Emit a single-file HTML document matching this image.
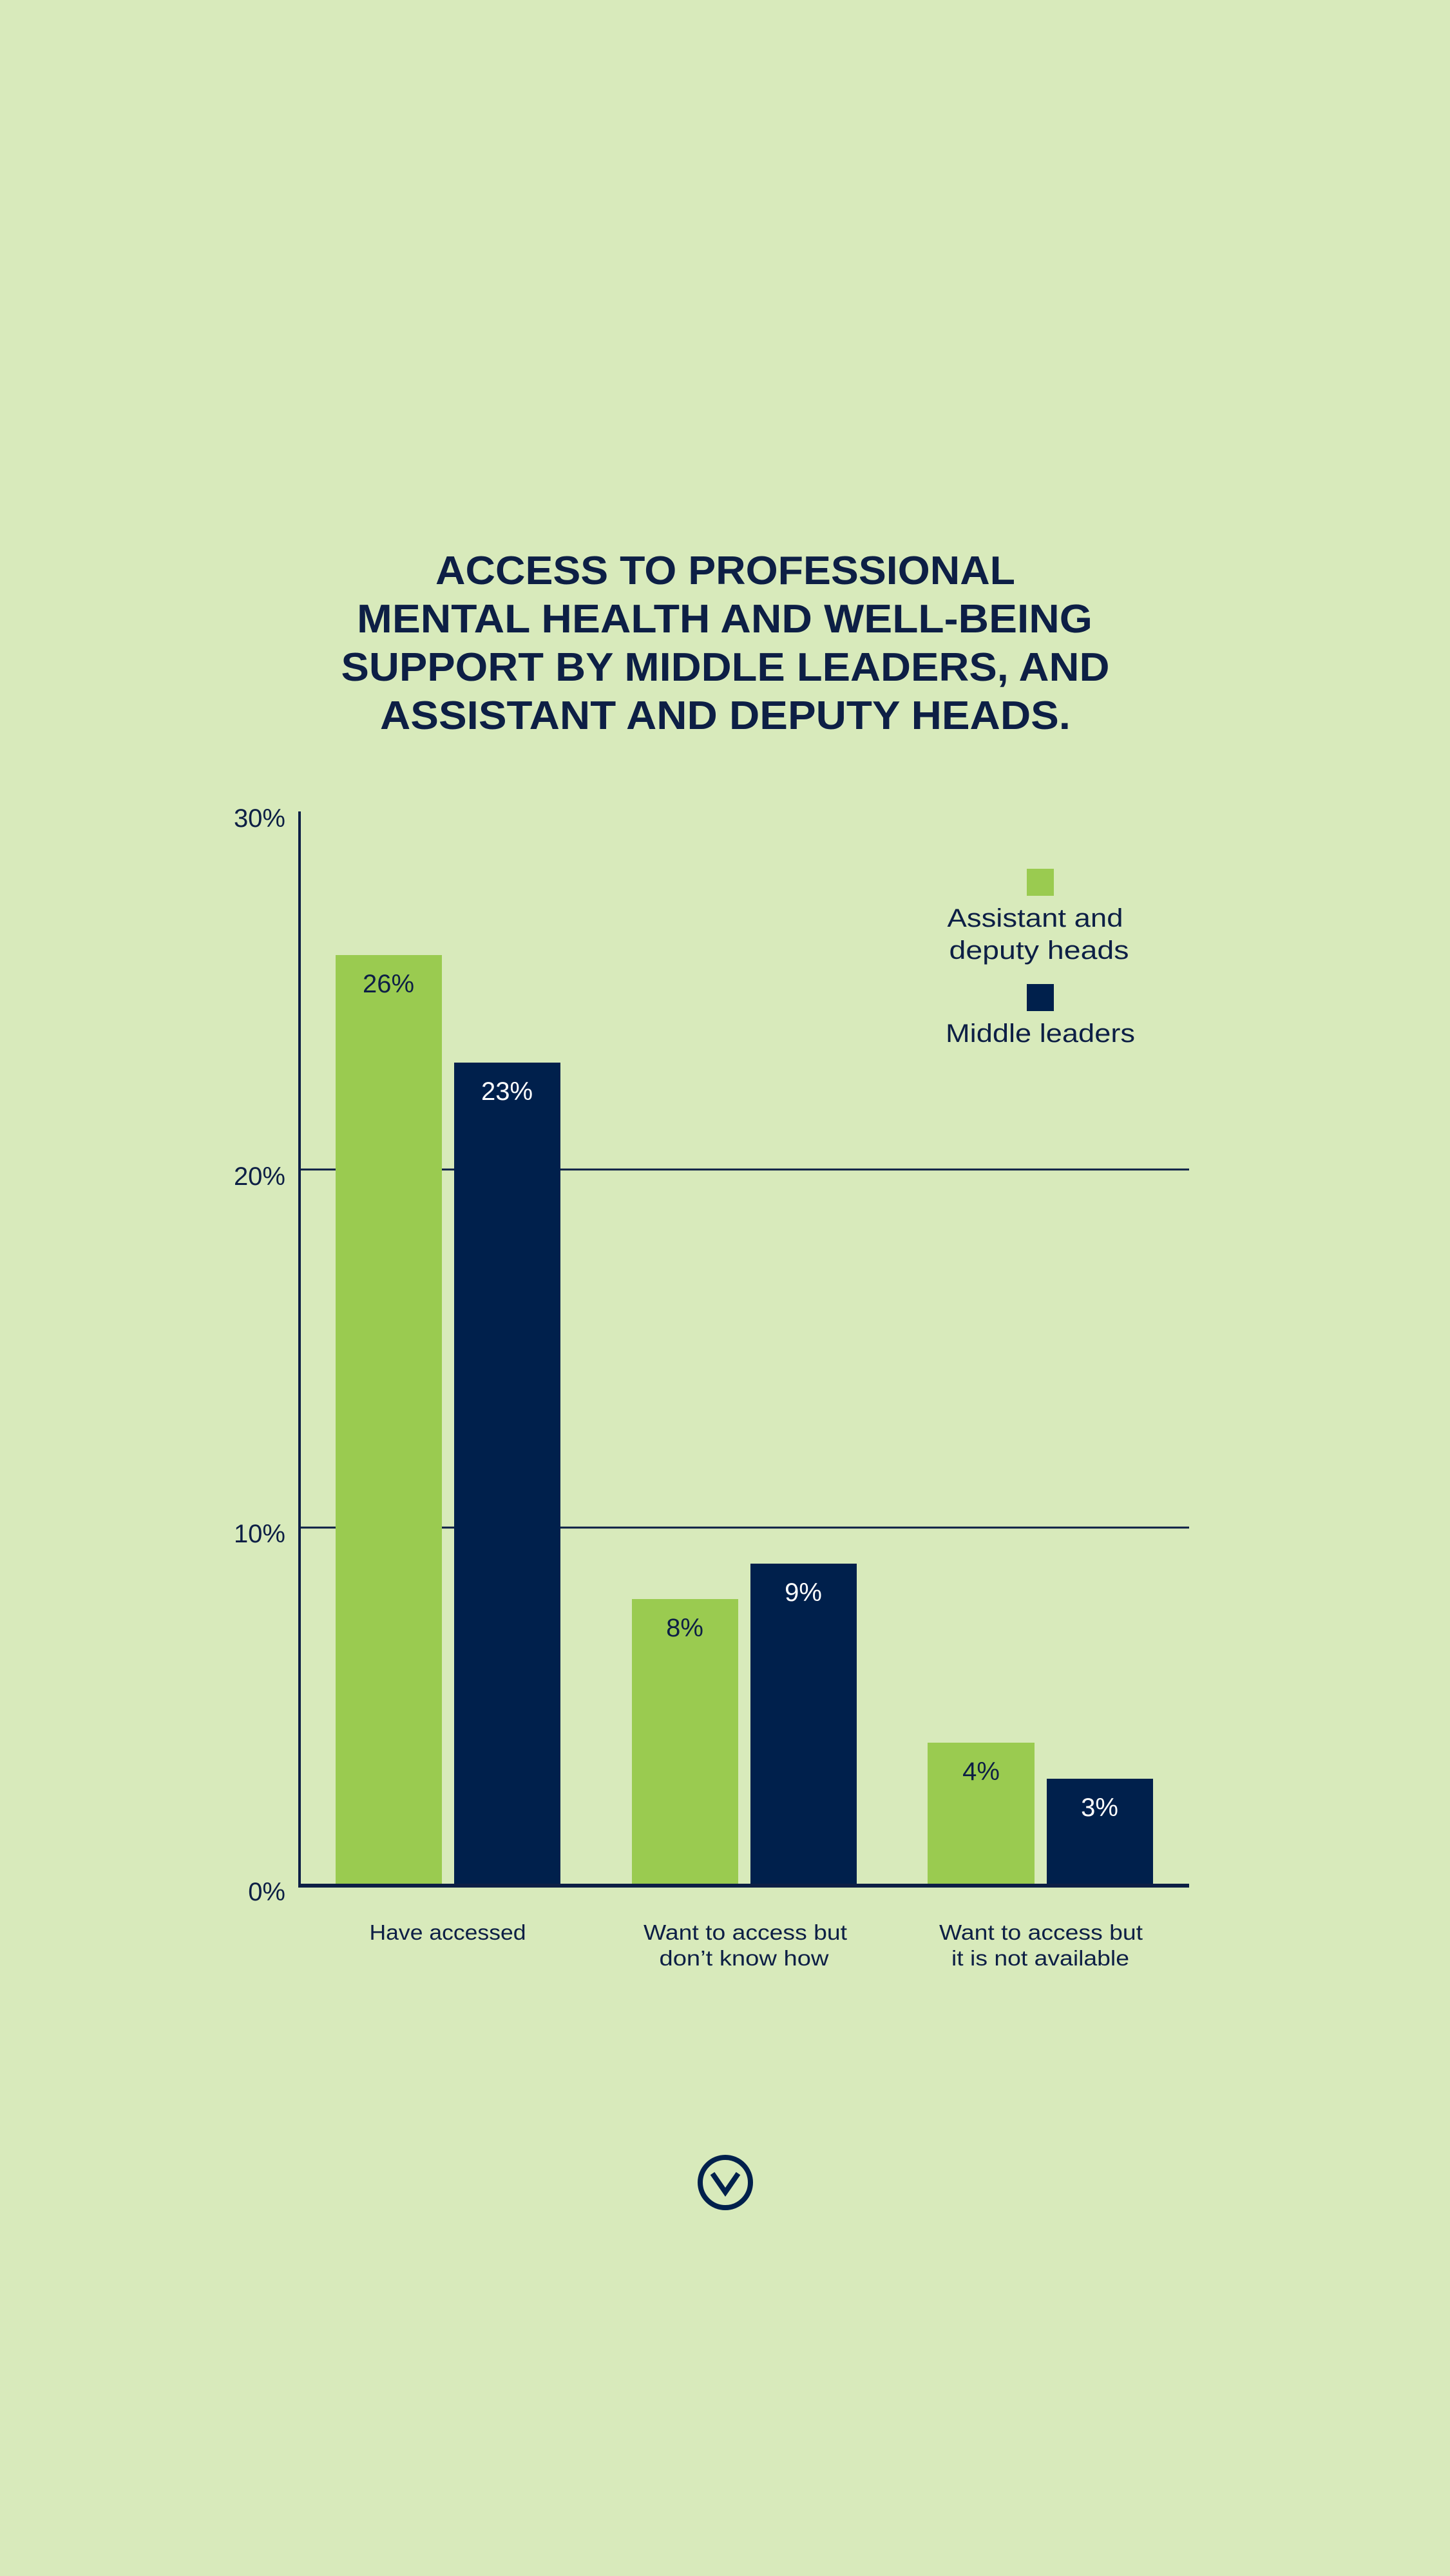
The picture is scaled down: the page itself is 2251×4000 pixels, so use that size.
<!DOCTYPE html>
<html><head><meta charset="utf-8"><style>
html,body{margin:0;padding:0;background:#d8eabb;}
svg{display:block;}
text{font-family:"Liberation Sans",sans-serif;}
</style></head><body>
<svg width="2251" height="4000" viewBox="0 0 2251 4000" xmlns="http://www.w3.org/2000/svg">
<rect width="2251" height="4000" fill="#d8eabb"/>
<g fill="#0d1f45" font-weight="bold" font-size="62" text-anchor="middle">
<text x="1126" y="907" textLength="900" lengthAdjust="spacingAndGlyphs">ACCESS TO PROFESSIONAL</text>
<text x="1125" y="982" textLength="1142" lengthAdjust="spacingAndGlyphs">MENTAL HEALTH AND WELL-BEING</text>
<text x="1126" y="1057" textLength="1193" lengthAdjust="spacingAndGlyphs">SUPPORT BY MIDDLE LEADERS, AND</text>
<text x="1126" y="1132" textLength="1072" lengthAdjust="spacingAndGlyphs">ASSISTANT AND DEPUTY HEADS.</text>
</g>
<line x1="465" y1="1816" x2="1846" y2="1816" stroke="#0d1f45" stroke-width="3"/>
<line x1="465" y1="2372" x2="1846" y2="2372" stroke="#0d1f45" stroke-width="3"/>
<rect x="521" y="1483" width="165" height="1445" fill="#9acb50"/>
<rect x="705" y="1650" width="165" height="1278" fill="#00204c"/>
<rect x="981" y="2483" width="165" height="445" fill="#9acb50"/>
<rect x="1165" y="2428" width="165" height="500" fill="#00204c"/>
<rect x="1440" y="2706" width="166" height="222" fill="#9acb50"/>
<rect x="1625" y="2762" width="165" height="166" fill="#00204c"/>
<line x1="465" y1="1260" x2="465" y2="2931" stroke="#0d1f45" stroke-width="4"/>
<line x1="463" y1="2928" x2="1846" y2="2928" stroke="#0d1f45" stroke-width="6"/>
<g fill="#0d1f45" font-size="40" text-anchor="end">
<text x="443" y="1284">30%</text>
<text x="443" y="1840">20%</text>
<text x="443" y="2395">10%</text>
<text x="443" y="2951">0%</text>
</g>
<g font-size="40" text-anchor="middle">
<text x="603" y="1541" fill="#0d1f45">26%</text>
<text x="787" y="1708" fill="#ffffff">23%</text>
<text x="1063" y="2541" fill="#0d1f45">8%</text>
<text x="1247" y="2486" fill="#ffffff">9%</text>
<text x="1523" y="2764" fill="#0d1f45">4%</text>
<text x="1707" y="2820" fill="#ffffff">3%</text>
</g>
<g fill="#0d1f45" font-size="33" text-anchor="middle">
<text x="695" y="3012" textLength="243" lengthAdjust="spacingAndGlyphs">Have accessed</text>
<text x="1157" y="3012" textLength="316" lengthAdjust="spacingAndGlyphs">Want to access but</text>
<text x="1155" y="3052" textLength="263" lengthAdjust="spacingAndGlyphs">don’t know how</text>
<text x="1616" y="3012" textLength="316" lengthAdjust="spacingAndGlyphs">Want to access but</text>
<text x="1615" y="3052" textLength="276" lengthAdjust="spacingAndGlyphs">it is not available</text>
</g>
<rect x="1594" y="1349" width="42" height="42" fill="#9acb50"/>
<rect x="1594" y="1528" width="42" height="42" fill="#00204c"/>
<g fill="#0d1f45" font-size="40" text-anchor="middle">
<text x="1607" y="1439" textLength="273" lengthAdjust="spacingAndGlyphs">Assistant and</text>
<text x="1613" y="1489" textLength="279" lengthAdjust="spacingAndGlyphs">deputy heads</text>
<text x="1615" y="1618" textLength="294" lengthAdjust="spacingAndGlyphs">Middle leaders</text>
</g>
<circle cx="1126" cy="3389" r="39" fill="none" stroke="#00204c" stroke-width="8"/>
<polyline points="1106,3375 1126,3404 1146,3375" fill="none" stroke="#00204c" stroke-width="8"/>
</svg>
</body></html>
